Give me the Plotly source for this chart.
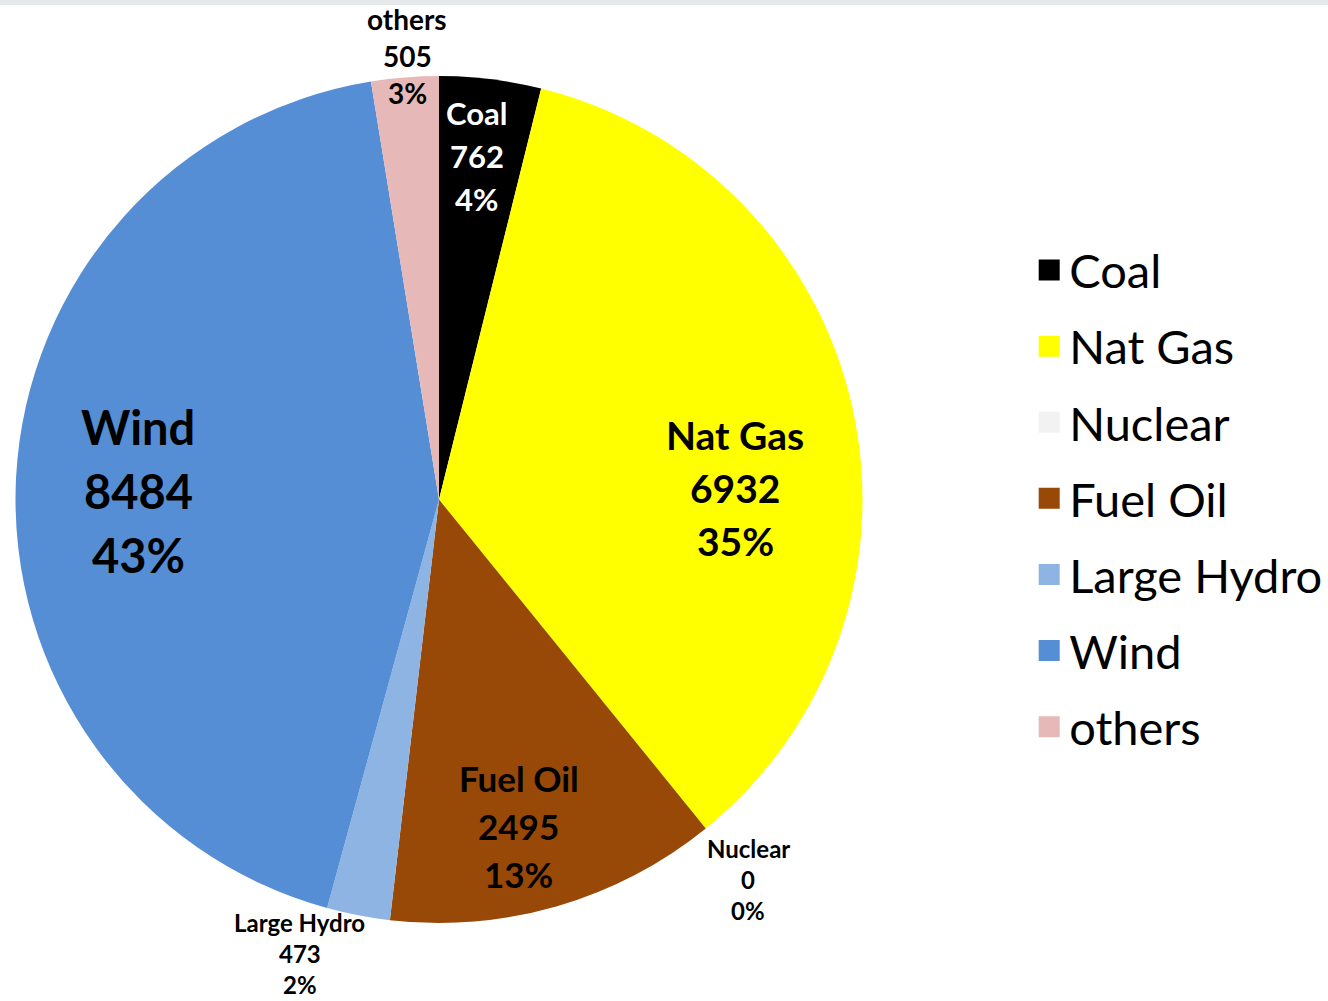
import math
import plotly.graph_objects as go

labels = ["Coal", "Nat Gas", "Nuclear", "Fuel Oil", "Large Hydro", "Wind", "others"]
values = [762, 6932, 0, 2495, 473, 8484, 505]
colors = ["#000000", "#FFFF00", "#F2F2F2", "#984807", "#8EB4E3", "#558ED5", "#E6B9B8"]

# label styling (placement relative to each slice's mid-angle, font size, line pitch, colour)
label_radius = [0.81, 0.70, 1.16, 0.80, 1.125, 0.71, 1.045]
label_angle_nudge = [-0.7, 11.0, 0.0, 2.6, 6.0, -2.2, 0.5]
label_sizes = [31, 39, 24, 35, 24, 47, 28]
label_pitch = [43, 53, 31, 48, 31, 64, 37]
label_colors = ["white", "black", "black", "black", "black", "black", "black"]

W, H = 1328, 1001
cx, cy, r = 439, 499.5, 423.5

fig = go.Figure()
fig.add_trace(go.Pie(
    labels=labels,
    values=values,
    sort=False,
    direction="clockwise",
    rotation=0,
    marker=dict(colors=colors, line=dict(width=0)),
    textinfo="none",
    domain=dict(x=[(cx - r) / W, (cx + r) / W], y=[1 - (cy + r) / H, 1 - (cy - r) / H]),
    showlegend=False,
    hoverinfo="label+value+percent",
))

# data labels placed at each slice's angle computed from the values
total = sum(values)
cum = 0.0
annotations = []
for i, (lab, v) in enumerate(zip(labels, values)):
    mid = (cum + v / 2) / total * 360.0 + label_angle_nudge[i]
    cum += v
    th = math.radians(mid)
    px = cx + label_radius[i] * r * math.sin(th)
    py = cy - label_radius[i] * r * math.cos(th) - 0.08 * label_sizes[i]
    pct = round(v / total * 100)
    for k, line in enumerate([lab, str(v), f"{pct}%"]):
        ly = py + (k - 1) * label_pitch[i]
        annotations.append(dict(
            x=px / W, y=1 - ly / H, xref="paper", yref="paper",
            text=f"<b>{line}</b>", showarrow=False,
            xanchor="center", yanchor="middle", align="center",
            font=dict(family="Lato", size=label_sizes[i], color=label_colors[i]),
        ))

for lab, col in zip(labels, colors):
    fig.add_trace(go.Scatter(
        x=[None], y=[None], mode="markers", name=lab, legendgroup=lab,
        marker=dict(symbol="square", size=30, color=col, line=dict(width=6, color=col)),
        showlegend=True, hoverinfo="skip",
    ))

fig.update_layout(
    width=W, height=H,
    margin=dict(l=0, r=0, t=0, b=0, pad=0, autoexpand=False),
    paper_bgcolor="white", plot_bgcolor="white",
    xaxis=dict(visible=False), yaxis=dict(visible=False),
    legend=dict(x=0.775, y=0.502, xanchor="left", yanchor="middle",
                font=dict(family="Lato", size=47, color="black"),
                tracegroupgap=12, itemsizing="trace", bgcolor="rgba(0,0,0,0)"),
    annotations=annotations,
    shapes=[dict(type="rect", xref="paper", yref="paper", x0=0, x1=1,
                 y0=1 - 5 / H, y1=1, fillcolor="#E6E8EC", line=dict(width=0))],
)

fig.write_html("out.html", config={"displayModeBar": False},
               post_script="document.body.style.margin='0';")
